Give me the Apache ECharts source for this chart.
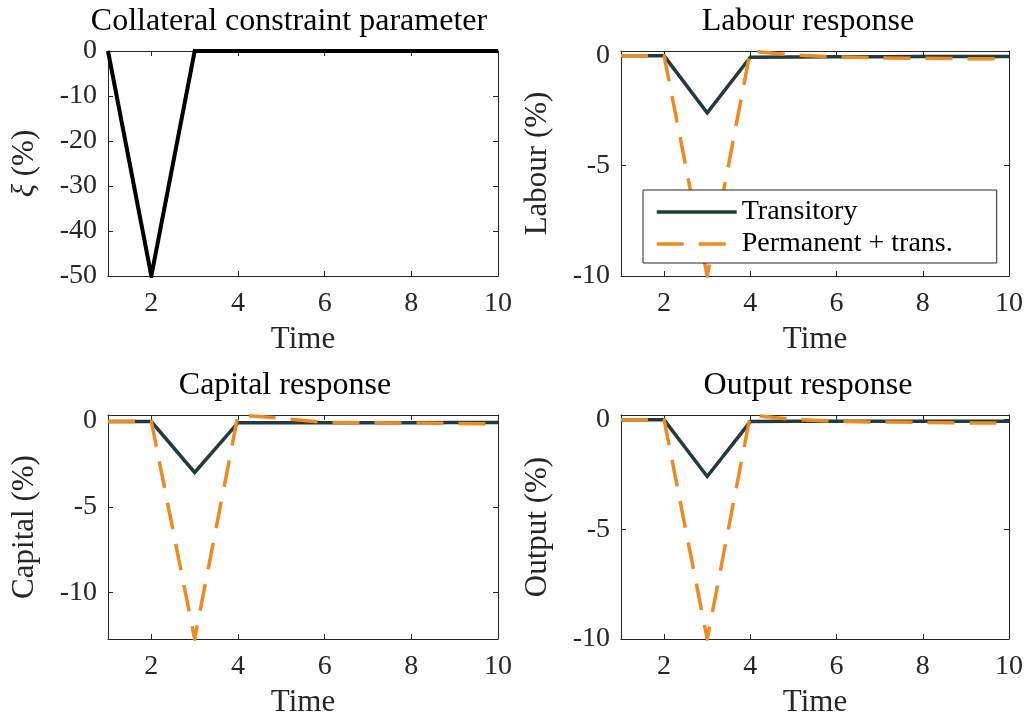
<!DOCTYPE html>
<html>
<head>
<meta charset="utf-8">
<script src="https://cdn.jsdelivr.net/npm/echarts@6/dist/echarts.min.js"></script>
<style>
  html, body { margin: 0; padding: 0; background: #ffffff; }
  #chart { width: 1029px; height: 719px; }
</style>
</head>
<body>
<div id="chart"></div>
<script>
// Impulse responses to a collateral constraint shock, periods 1..10
const time = [1, 2, 3, 4, 5, 6, 7, 8, 9, 10];
const xiShock = [0, -50, 0, 0, 0, 0, 0, 0, 0, 0];
const labourTransitory = [-0.02, -0.02, -2.6, -0.08, -0.07, -0.06, -0.06, -0.05, -0.05, -0.05];
const labourPermanent = [-0.02, -0.02, -10, 0.2, 0.02, -0.07, -0.11, -0.13, -0.15, -0.16];
const capitalTransitory = [-0.03, -0.03, -3.0, -0.1, -0.1, -0.1, -0.1, -0.1, -0.09, -0.09];
const capitalPermanent = [-0.03, -0.03, -12.7, 0.35, 0.16, -0.08, -0.1, -0.12, -0.14, -0.16];
const outputTransitory = [-0.02, -0.02, -2.6, -0.1, -0.09, -0.08, -0.08, -0.08, -0.08, -0.08];
const outputPermanent = [-0.02, -0.02, -10, 0.2, 0.0, -0.09, -0.12, -0.14, -0.16, -0.17];

const timeTicks = [2, 4, 6, 8, 10];
const xiTicks = [-50, -40, -30, -20, -10, 0];
const responseTicks = [-10, -5, 0];

const panelTitles = ['Collateral constraint parameter', 'Labour response', 'Capital response', 'Output response'];
const panelYNames = ['{it|ξ} (%)', 'Labour (%)', 'Capital (%)', 'Output (%)'];
const xName = 'Time';
const seriesNames = ['Transitory', 'Permanent + trans.'];

const FONT = 'Liberation Serif';
const AXIS_COLOR = '#262626';
const DARK = '#233a3e';
const ORANGE = '#ee8a22';
const DASH = [27, 15];

// Panel geometry (pixels) and data bindings
const panels = [
  { rect: { left: 108, top: 51, width: 390, height: 225 }, ticks: xiTicks,
    lines: [{ name: 'xi', data: xiShock, color: '#000000', width: 4, dash: 'solid' }],
    titleX: 289, titleY: 6 },
  { rect: { left: 621, top: 51, width: 388, height: 225 }, ticks: responseTicks,
    lines: [{ name: seriesNames[0], data: labourTransitory, color: DARK, width: 3.5, dash: 'solid' },
            { name: seriesNames[1], data: labourPermanent, color: ORANGE, width: 3.5, dash: DASH }],
    titleX: 808, titleY: 6 },
  { rect: { left: 108, top: 415, width: 390, height: 225 }, ticks: responseTicks,
    lines: [{ name: seriesNames[0], data: capitalTransitory, color: DARK, width: 3.5, dash: 'solid' },
            { name: seriesNames[1], data: capitalPermanent, color: ORANGE, width: 3.5, dash: DASH }],
    titleX: 285, titleY: 370 },
  { rect: { left: 621, top: 415, width: 388, height: 225 }, ticks: responseTicks,
    lines: [{ name: seriesNames[0], data: outputTransitory, color: DARK, width: 3.5, dash: 'solid' },
            { name: seriesNames[1], data: outputPermanent, color: ORANGE, width: 3.5, dash: DASH }],
    titleX: 808, titleY: 370 }
];

const grids = [], xAxes = [], yAxes = [], series = [], graphics = [];

const lineCommon = { show: true, onZero: false, lineStyle: { color: AXIS_COLOR, width: 1 } };

panels.forEach((p, i) => {
  grids.push(Object.assign({ containLabel: false }, p.rect));

  // tight y-limits from the plotted data
  const all = [].concat(...p.lines.map(l => l.data));
  const yMin = Math.min(...all);
  const yMax = Math.max(...all);

  const tickStyle = (values) => ({
    show: true, inside: true, length: 5, customValues: values,
    lineStyle: { color: AXIS_COLOR, width: 1 }
  });

  // bottom axis with labels, top mirror axis with ticks only
  xAxes.push({
    type: 'value', gridIndex: i, position: 'bottom', min: 1, max: 10,
    axisLine: lineCommon, axisTick: tickStyle(timeTicks),
    axisLabel: { show: true, customValues: timeTicks, margin: 14,
                 fontFamily: FONT, fontSize: 28, color: '#262626' },
    splitLine: { show: false },
    name: xName, nameLocation: 'middle', nameGap: 48,
    nameTextStyle: { fontFamily: FONT, fontSize: 31, color: '#262626' }
  });
  xAxes.push({
    type: 'value', gridIndex: i, position: 'top', min: 1, max: 10,
    axisLine: lineCommon, axisTick: tickStyle(timeTicks),
    axisLabel: { show: false }, splitLine: { show: false }
  });

  yAxes.push({
    type: 'value', gridIndex: i, position: 'left', min: yMin, max: yMax,
    axisLine: lineCommon, axisTick: tickStyle(p.ticks),
    axisLabel: { show: true, customValues: p.ticks, margin: 11,
                 fontFamily: FONT, fontSize: 28, color: '#262626' },
    splitLine: { show: false },
    name: panelYNames[i], nameLocation: 'middle', nameGap: 68, nameRotate: 90,
    nameTextStyle: { fontFamily: FONT, fontSize: 31, color: '#262626',
                     rich: { it: { fontFamily: FONT, fontSize: 31, fontStyle: 'italic', color: '#262626' } } }
  });
  yAxes.push({
    type: 'value', gridIndex: i, position: 'right', min: yMin, max: yMax,
    axisLine: lineCommon, axisTick: tickStyle(p.ticks),
    axisLabel: { show: false }, splitLine: { show: false }
  });

  p.lines.forEach(l => {
    series.push({
      type: 'line', name: l.name,
      xAxisIndex: 2 * i, yAxisIndex: 2 * i,
      data: time.map((t, k) => [t, l.data[k]]),
      symbol: 'none', smooth: false, animation: false,
      lineStyle: { color: l.color, width: l.width, type: l.dash, cap: 'butt', join: 'miter' },
      itemStyle: { color: l.color }
    });
  });

  graphics.push({
    type: 'text', x: p.titleX, y: p.titleY,
    style: { text: panelTitles[i], fontFamily: FONT, fontSize: 32, fill: '#000000',
             textAlign: 'center', textVerticalAlign: 'top' }
  });
});

const chart = echarts.init(document.getElementById('chart'), null, { renderer: 'canvas' });
chart.setOption({
  backgroundColor: '#ffffff',
  animation: false,
  grid: grids,
  xAxis: xAxes,
  yAxis: yAxes,
  series: series,
  graphic: graphics,
  legend: {
    data: seriesNames,
    orient: 'vertical',
    left: 643, top: 190,
    padding: [8, 44, 5, 12],
    itemWidth: 80, itemHeight: 14, itemGap: 4,
    backgroundColor: '#ffffff',
    borderColor: AXIS_COLOR, borderWidth: 1,
    itemStyle: { opacity: 0 },
    lineStyle: { width: 3.5 },
    textStyle: { fontFamily: FONT, fontSize: 28, color: '#000000' },
    selectedMode: false
  }
});
</script>
</body>
</html>
